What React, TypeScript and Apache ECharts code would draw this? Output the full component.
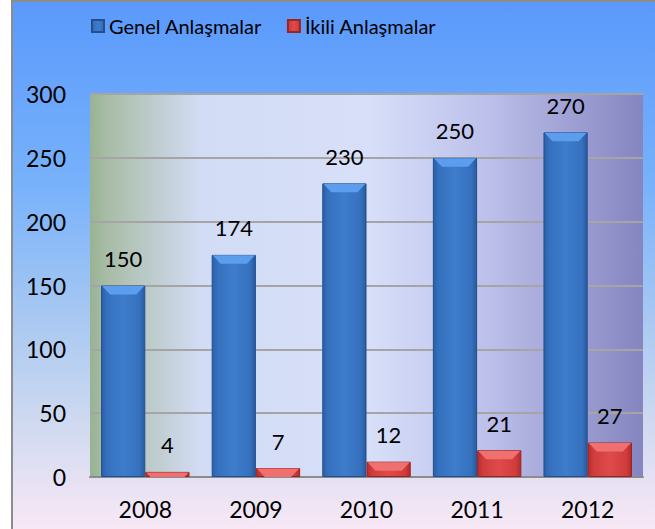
import React, { useEffect, useRef } from "react";
import * as echarts from "echarts";

const years = ["2008", "2009", "2010", "2011", "2012"];
const genel = [150, 174, 230, 250, 270];
const ikili = [4, 7, 12, 21, 27];
const seriesNames = ["Genel Anlaşmalar", "İkili Anlaşmalar"];
const yMax = 300;
const yInterval = 50;

const FONT = "Lato";

export default function App() {
  const ref = useRef<HTMLDivElement>(null);
  useEffect(() => {
    if (!ref.current) return;
    const chart = echarts.init(ref.current, undefined, { renderer: "svg" });
    const blueGrad = new echarts.graphic.LinearGradient(0, 0, 1, 0, [
      { offset: 0, color: "#2a5fa9" },
      { offset: 0.12, color: "#3570bd" },
      { offset: 0.5, color: "#3d7dcc" },
      { offset: 0.88, color: "#3570bd" },
      { offset: 1, color: "#285a9f" },
    ]);
    const redGrad = new echarts.graphic.LinearGradient(0, 0, 1, 0, [
      { offset: 0, color: "#b92c2c" },
      { offset: 0.12, color: "#d03c3c" },
      { offset: 0.5, color: "#e04a4a" },
      { offset: 0.88, color: "#d03c3c" },
      { offset: 1, color: "#b52a2a" },
    ]);
    const label = {
      show: true,
      position: "top",
      distance: 16,
      fontFamily: FONT,
      fontSize: 22,
      color: "#000",
    };
    const bevel = (side: number, fill: string) => (params: any, api: any) => {
      const idx = api.value(0);
      const val = api.value(1);
      const top = api.coord([idx, val]);
      const base = api.coord([idx, 0]);
      const catW = api.size([1, 0])[0];
      const bw = catW * 0.4;
      const x0 = side === 0 ? top[0] - bw : top[0];
      const x1 = x0 + bw;
      const h = Math.min(9, base[1] - top[1]);
      const inset = Math.min(9, h);
      return {
        type: "polygon",
        shape: {
          points: [
            [x0 + 1, top[1] + 0.5],
            [x1 - 1, top[1] + 0.5],
            [x1 - inset, top[1] + h],
            [x0 + inset, top[1] + h],
          ],
        },
        style: { fill },
        silent: true,
      };
    };
    chart.setOption({
      animation: false,
      backgroundColor: new echarts.graphic.LinearGradient(0, 0, 0, 1, [
        { offset: 0, color: "#5a99fc" },
        { offset: 0.35, color: "#78b2fb" },
        { offset: 0.6, color: "#a8c8f2" },
        { offset: 0.78, color: "#cbd8f0" },
        { offset: 1, color: "#f8e8f6" },
      ]),
      textStyle: { fontFamily: FONT },
      graphic: [
        { type: "rect", shape: { x: 0, y: 0, width: 11, height: 529 }, style: { fill: "#fff" } },
        {
          type: "polyline",
          shape: { points: [[12, 529], [12, 1], [655, 1]] },
          style: { stroke: "#8c8c8c", lineWidth: 2, fill: "none" },
        },
      ],
      legend: {
        data: seriesNames,
        left: 91,
        top: 16,
        padding: 0,
        itemWidth: 12,
        itemHeight: 12,
        itemGap: 25,
        icon: "rect",
        textStyle: { fontFamily: FONT, fontSize: 20, color: "#000" },
      },
      grid: {
        left: 90,
        right: 12,
        top: 94,
        bottom: 52,
        show: true,
        borderWidth: 0,
        backgroundColor: new echarts.graphic.LinearGradient(0, 0, 1, 0, [
          { offset: 0, color: "#98b393" },
          { offset: 0.03, color: "#a8bca6" },
          { offset: 0.2, color: "#d3dcf5" },
          { offset: 0.5, color: "#d8e0f9" },
          { offset: 0.72, color: "#bcc0ea" },
          { offset: 1, color: "#8585c0" },
        ]),
      },
      xAxis: {
        type: "category",
        data: years,
        axisTick: { show: false },
        axisLine: { lineStyle: { color: "#8c8c8c", width: 2 } },
        axisLabel: { fontFamily: FONT, fontSize: 23, color: "#000", margin: 20 },
      },
      yAxis: {
        type: "value",
        min: 0,
        max: yMax,
        interval: yInterval,
        axisLine: { show: false },
        axisTick: { show: false },
        axisLabel: { fontFamily: FONT, fontSize: 23, color: "#000", margin: 24 },
        splitLine: { lineStyle: { color: "#a5a5a5", width: 2 } },
      },
      series: [
        {
          name: seriesNames[0],
          type: "bar",
          data: genel,
          barGap: "0%",
          barCategoryGap: "20%",
          itemStyle: { color: blueGrad, borderColor: "#234f8c", borderWidth: 1 },
          label,
        },
        {
          name: seriesNames[1],
          type: "bar",
          data: ikili,
          itemStyle: { color: redGrad, borderColor: "#9a2424", borderWidth: 1 },
          label,
        },
        {
          type: "custom",
          name: "bevelBlue",
          data: genel.map((v, i) => [i, v]),
          renderItem: bevel(0, "#5c9ded"),
          z: 3,
          silent: true,
          tooltip: { show: false },
        },
        {
          type: "custom",
          name: "bevelRed",
          data: ikili.map((v, i) => [i, v]),
          renderItem: bevel(1, "#f07070"),
          z: 3,
          silent: true,
          tooltip: { show: false },
        },
      ],
    });
    return () => chart.dispose();
  }, []);
  return (
    <div
      ref={ref}
      style={{ position: "absolute", left: 0, top: 0, width: 655, height: 529 }}
    />
  );
}
